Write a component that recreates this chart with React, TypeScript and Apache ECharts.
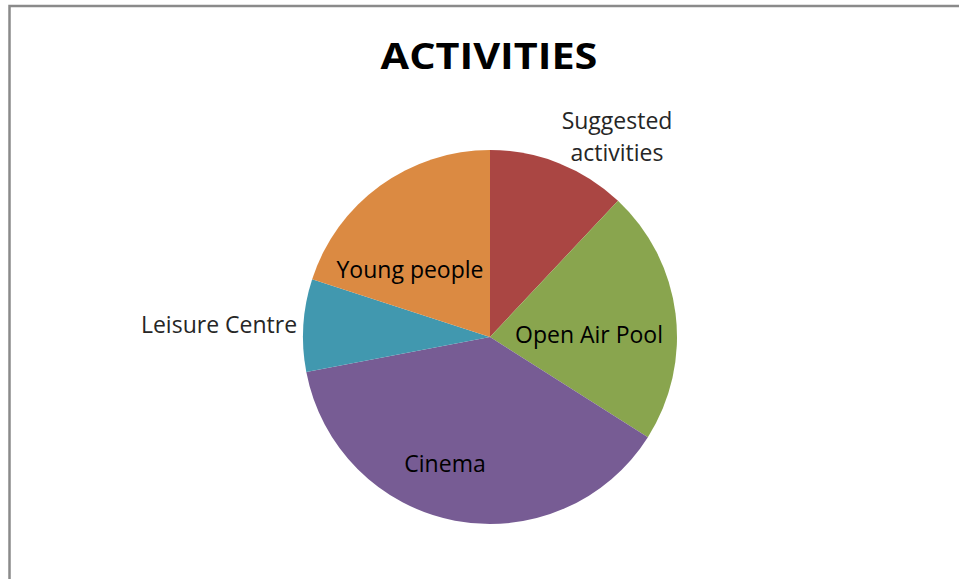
import React, { useEffect, useRef } from "react";
import * as echarts from "echarts";

const categories = ["Suggested activities", "Open Air Pool", "Cinema", "Leisure Centre", "Young people"];
const values = [12, 22, 38, 8, 20];
const labelTexts = ["Suggested\nactivities", "Open Air Pool", "Cinema", "Leisure Centre", "Young people"];
const colors = ["#AA4643", "#89A54E", "#775C94", "#4198AF", "#DB8A42"];
// label anchor positions (layout only)
const labelAnchors: [number, number][] = [
  [617, 136],
  [589, 334],
  [445, 463],
  [219, 324],
  [410, 269],
];

const FONT = "'Open Sans', Calibri, sans-serif";

export default function App() {
  const ref = useRef<HTMLDivElement>(null);
  useEffect(() => {
    if (!ref.current) return;
    const chart = echarts.init(ref.current, undefined, { renderer: "svg" });
    chart.setOption({
      animation: false,
      backgroundColor: "#ffffff",
      graphic: [
        {
          type: "rect",
          shape: { x: 9.5, y: 6, width: 1200, height: 900 },
          style: { fill: "none", stroke: "#8a8a8a", lineWidth: 2.5 },
          silent: true,
        },
        {
          type: "text",
          x: 489,
          y: 55,
          scaleX: 1.15,
          style: {
            text: "ACTIVITIES",
            align: "center",
            verticalAlign: "middle",
            fill: "#000000",
            font: `bold 36px ${FONT}`,
          },
        },
      ],
      series: [
        {
          type: "pie",
          center: [490, 337],
          radius: 187,
          startAngle: 90,
          clockwise: true,
          itemStyle: { borderWidth: 0 },
          emphasis: { disabled: true },
          labelLine: { show: false },
          label: {
            show: true,
            position: "inside",
            color: "#000000",
            fontFamily: FONT,
            fontSize: 23,
            lineHeight: 32,
          },
          labelLayout: (params: any) => {
            const p = labelAnchors[params.dataIndex];
            return { x: p[0], y: p[1], align: "center", verticalAlign: "middle" };
          },
          data: categories.map((name, i) => ({
            name,
            value: values[i],
            itemStyle: { color: colors[i] },
            label: {
              formatter: labelTexts[i],
              color: i === 0 || i === 3 ? "#262626" : "#000000",
            },
          })),
        },
      ],
    });
    return () => chart.dispose();
  }, []);
  return (
    <div
      ref={ref}
      style={{ position: "absolute", left: 0, top: 0, width: 959, height: 579 }}
    />
  );
}
